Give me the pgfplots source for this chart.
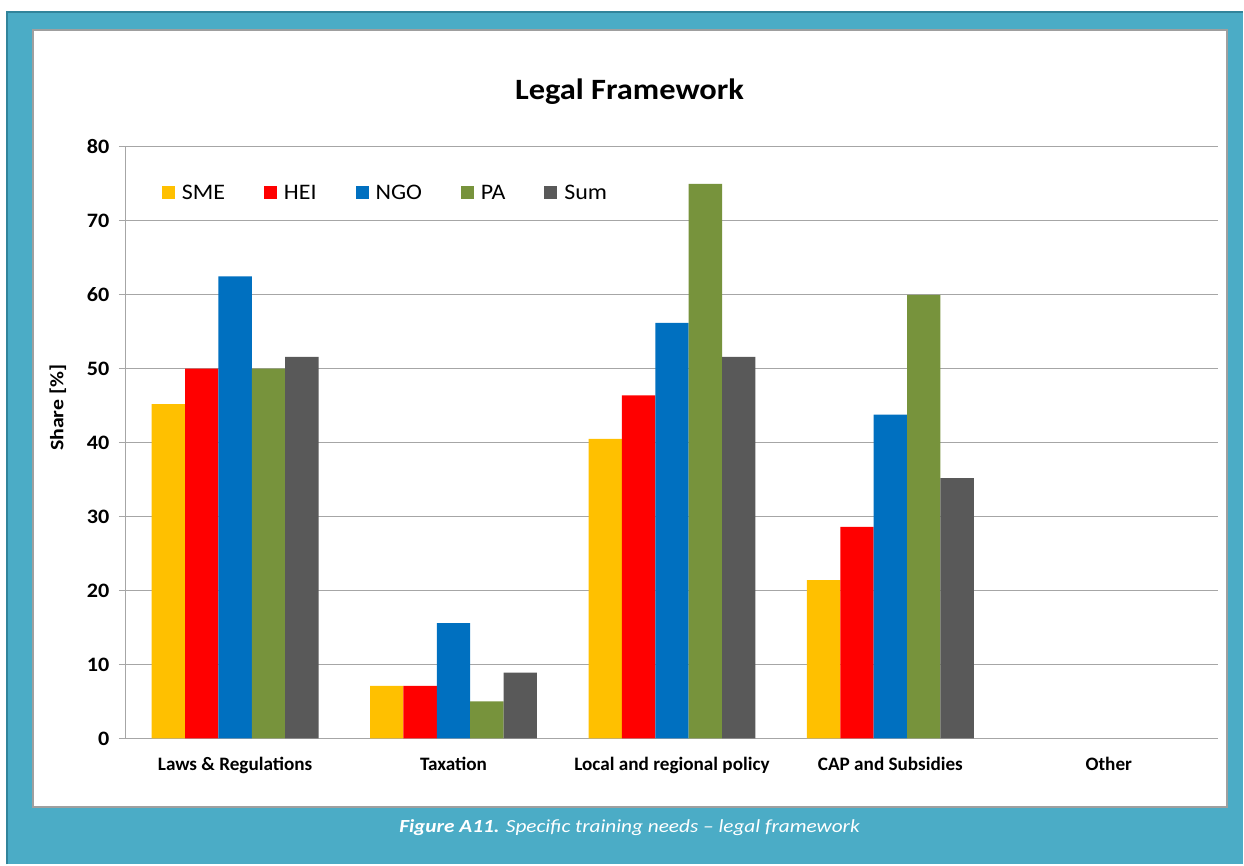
\documentclass[border=0pt]{standalone}
\usepackage{pgfplots}
\pgfplotsset{compat=1.18}
\usepackage{fontspec}
\setmainfont{Carlito}
\newfontfamily\fTitle[FakeStretch=1.10]{Carlito}
\newfontfamily\fTick[FakeStretch=1.08]{Carlito}
\newfontfamily\fCat[FakeStretch=1.01]{Carlito}
\newfontfamily\fLeg[FakeStretch=1.08]{Carlito}
\newfontfamily\fYlab[FakeStretch=1.15]{Carlito}
\newfontfamily\fCap[FakeStretch=1.15,Ligatures=TeX]{Carlito}
\definecolor{frameblue}{HTML}{4BACC6}
\definecolor{framedark}{HTML}{31849B}
\definecolor{cSME}{HTML}{FFC000}
\definecolor{cHEI}{HTML}{FF0000}
\definecolor{cNGO}{HTML}{0070C0}
\definecolor{cPA}{HTML}{77933C}
\definecolor{cSum}{HTML}{595959}
\definecolor{gridgray}{HTML}{A6A6A6}
\begin{document}
\begin{tikzpicture}[x=1pt,y=1pt]
\fill[white] (0,0) rectangle (1244,865);
\fill[frameblue] (6,0) rectangle (1244,854);
\draw[framedark,line width=2pt] (7,0) -- (7,853) -- (1244,853);
\draw[fill=white,draw=gray!75,line width=2pt] (33,57) rectangle (1228,835);
\node[font=\fTitle\bfseries\fontsize{29.5}{31}\selectfont,anchor=base] at (630,765) {Legal Framework};
\node[font=\fYlab\bfseries\fontsize{19}{21}\selectfont,rotate=90] at (58,457) {Share [\%]};
\node[font=\fCap\itshape\fontsize{18.5}{21}\selectfont,text=white] at (630,37) {\textbf{Figure A11.} Specific training needs – legal framework};
\begin{axis}[
  at={(126pt,126pt)}, anchor=south west,
  scale only axis, width=1093pt, height=592pt,
  ybar=0pt, bar width=33.4pt,
  xmin=-0.5, xmax=4.5, ymin=0, ymax=80,
  ytick={0,10,...,80},
  xtick={0,1,2,3,4},
  xticklabels={Laws \& Regulations,Taxation,Local and regional policy,CAP and Subsidies,Other},
  major x tick style={draw=none},
  extra x ticks={-0.5,0.5,1.5,2.5,3.5,4.5},
  extra x tick labels={},
  extra x tick style={major tick length=7pt, tick style={draw=gridgray, line width=1pt}, grid=none},
  tick align=outside,
  major tick length=7pt,
  ytick style={draw=gridgray, line width=1pt},
  axis x line*=bottom, axis y line*=left,
  axis line style={draw=gridgray, line width=1pt, -},
  ymajorgrids, grid style={draw=gridgray, line width=1pt},
  /pgf/number format/assume math mode=true,
  yticklabel style={font=\fTick\bfseries\fontsize{20.5}{22}\selectfont, anchor=east, xshift=-6pt},
  xticklabel style={font=\fCat\bfseries\fontsize{19}{21}\selectfont, anchor=base, yshift=-25pt},
  legend columns=5,
  legend style={draw=none, fill=none, at={(0.030,0.921)}, anchor=west,
    font=\fLeg\fontsize{22.2}{24}\selectfont,
    nodes={inner sep=0pt, text height=15pt, text depth=4pt},
    /tikz/every odd column/.append style={column sep=7pt},
    /tikz/every even column/.append style={column sep=39pt}},
  legend image code/.code={\fill[#1] (0pt,-5pt) rectangle (13pt,8pt);},
  every axis plot/.append style={draw=none},
]
\addplot[fill=cSME] coordinates {(0,45.2) (1,7.1) (2,40.5) (3,21.4)};
\addplot[fill=cHEI] coordinates {(0,50) (1,7.1) (2,46.4) (3,28.6)};
\addplot[fill=cNGO] coordinates {(0,62.5) (1,15.6) (2,56.2) (3,43.8)};
\addplot[fill=cPA] coordinates {(0,50) (1,5) (2,75) (3,60)};
\addplot[fill=cSum] coordinates {(0,51.6) (1,8.9) (2,51.6) (3,35.2)};
\legend{SME,HEI,NGO,PA,Sum}
\end{axis}
\end{tikzpicture}
\end{document}
